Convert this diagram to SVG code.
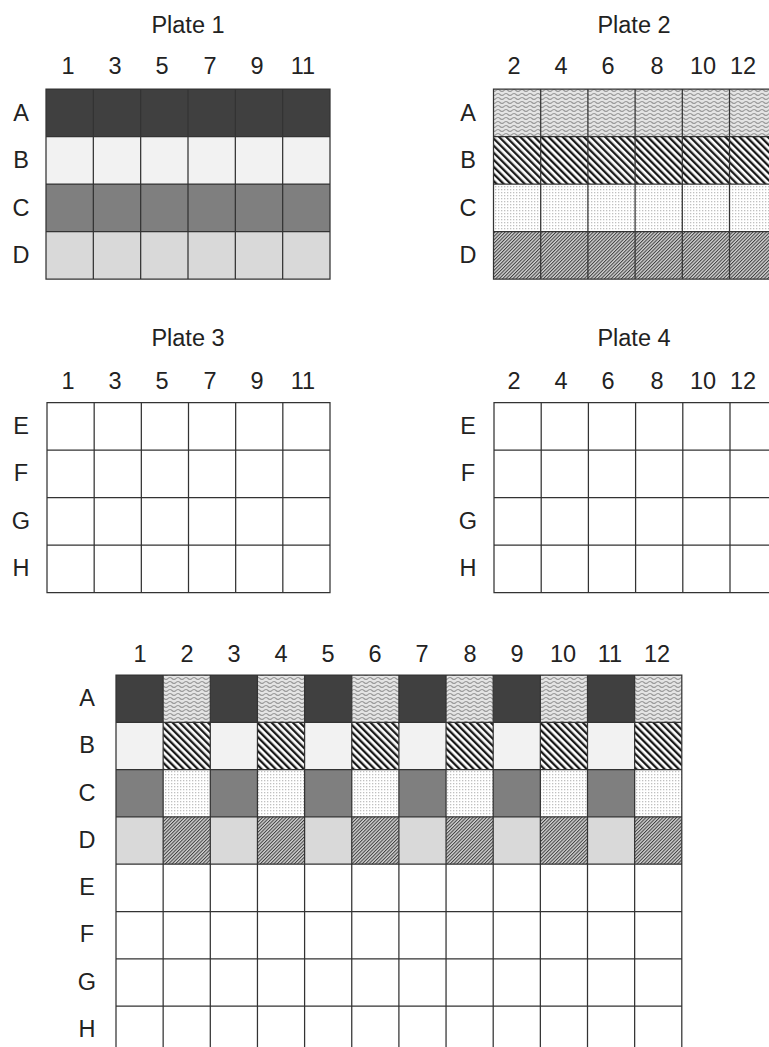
<svg xmlns="http://www.w3.org/2000/svg" width="769" height="1047" viewBox="0 0 769 1047">
<style>
text{font-family:"Liberation Sans",Arial,sans-serif;font-size:23.5px;fill:#222;text-anchor:middle}
.grid{fill:none;stroke:#333;stroke-width:1.25}
.a1{fill:#404040}.b1{fill:#f2f2f2}.c1{fill:#7f7f7f}.d1{fill:#d9d9d9}
.a2{fill:url(#wave)}.b2{fill:url(#stripeB)}.c2{fill:url(#dots)}.d2{fill:url(#stripeD)}
</style>
<defs>
<pattern id="wave" patternUnits="userSpaceOnUse" width="8" height="4">
<rect width="8" height="4" fill="#e4e4e4"/>
<path d="M0 2.5 Q2 0.5 4 2.5 T8 2.5" fill="none" stroke="#9a9a9a" stroke-width="1.1"/>
</pattern>
<pattern id="stripeB" patternUnits="userSpaceOnUse" width="5" height="10" patternTransform="rotate(-45)">
<rect width="5" height="10" fill="#ffffff"/>
<rect width="2.3" height="10" fill="#1a1a1a"/>
</pattern>
<pattern id="stripeD" patternUnits="userSpaceOnUse" width="2.4" height="10" patternTransform="rotate(45)">
<rect width="2.4" height="10" fill="#d2d2d2"/>
<rect width="1" height="10" fill="#404040"/>
</pattern>
<pattern id="dots" patternUnits="userSpaceOnUse" width="3" height="3">
<rect width="3" height="3" fill="#ffffff"/>
<rect width="1.3" height="1.3" fill="#c0c0c0"/>
</pattern>
</defs>

<g id="plate1">
<text x="188" y="33">Plate 1</text>
<text x="68" y="74">1</text><text x="115" y="74">3</text><text x="162" y="74">5</text><text x="210" y="74">7</text><text x="257" y="74">9</text><text x="303" y="74">11</text>
<text x="21" y="121">A</text><text x="21" y="168">B</text><text x="21" y="216">C</text><text x="21" y="263">D</text>
<rect class="a1" x="46" y="89" width="284" height="47.5"/>
<rect class="b1" x="46" y="136.5" width="284" height="47.5"/>
<rect class="c1" x="46" y="184" width="284" height="47.5"/>
<rect class="d1" x="46" y="231.5" width="284" height="47.5"/>
<path class="grid" d="M46 89H330V279H46Z M93.33 89V279 M140.67 89V279 M188 89V279 M235.33 89V279 M282.67 89V279 M46 136.5H330 M46 184H330 M46 231.5H330"/>
</g>

<g id="plate2">
<text x="634" y="33">Plate 2</text>
<text x="514" y="74">2</text><text x="561" y="74">4</text><text x="608" y="74">6</text><text x="657" y="74">8</text><text x="703" y="74">10</text><text x="743" y="74">12</text>
<text x="468" y="121">A</text><text x="468" y="168">B</text><text x="468" y="216">C</text><text x="468" y="263">D</text>
<rect class="a2" x="493.5" y="89" width="283.2" height="47.5"/>
<rect class="b2" x="493.5" y="136.5" width="283.2" height="47.5"/>
<rect class="c2" x="493.5" y="184" width="283.2" height="47.5"/>
<rect class="d2" x="493.5" y="231.5" width="283.2" height="47.5"/>
<path class="grid" d="M493.5 89H776.7V279H493.5Z M540.7 89V279 M587.9 89V279 M635.1 89V279 M682.3 89V279 M729.5 89V279 M493.5 136.5H776.7 M493.5 184H776.7 M493.5 231.5H776.7"/>
</g>

<g id="plate3">
<text x="188" y="346">Plate 3</text>
<text x="68" y="389">1</text><text x="115" y="389">3</text><text x="162" y="389">5</text><text x="210" y="389">7</text><text x="257" y="389">9</text><text x="303" y="389">11</text>
<text x="21" y="434">E</text><text x="21" y="481">F</text><text x="21" y="529">G</text><text x="21" y="576">H</text>
<rect x="47" y="402.7" width="283" height="190" fill="#ffffff"/>
<path class="grid" d="M47 402.7H330V592.7H47Z M94.17 402.7V592.7 M141.33 402.7V592.7 M188.5 402.7V592.7 M235.67 402.7V592.7 M282.83 402.7V592.7 M47 450.2H330 M47 497.7H330 M47 545.2H330"/>
</g>

<g id="plate4">
<text x="634" y="346">Plate 4</text>
<text x="514" y="389">2</text><text x="561" y="389">4</text><text x="608" y="389">6</text><text x="657" y="389">8</text><text x="703" y="389">10</text><text x="743" y="389">12</text>
<text x="468" y="434">E</text><text x="468" y="481">F</text><text x="468" y="529">G</text><text x="468" y="576">H</text>
<rect x="494" y="402.7" width="283.2" height="190" fill="#ffffff"/>
<path class="grid" d="M494 402.7H777.2V592.7H494Z M541.2 402.7V592.7 M588.4 402.7V592.7 M635.6 402.7V592.7 M682.8 402.7V592.7 M730 402.7V592.7 M494 450.2H777.2 M494 497.7H777.2 M494 545.2H777.2"/>
</g>

<g id="combined">
<text x="140" y="662">1</text><text x="187" y="662">2</text><text x="234" y="662">3</text><text x="281" y="662">4</text><text x="328" y="662">5</text><text x="375" y="662">6</text><text x="422" y="662">7</text><text x="470" y="662">8</text><text x="517" y="662">9</text><text x="563" y="662">10</text><text x="610" y="662">11</text><text x="657" y="662">12</text>
<text x="87" y="706">A</text><text x="87" y="753">B</text><text x="87" y="801">C</text><text x="87" y="848">D</text><text x="87" y="895">E</text><text x="87" y="942">F</text><text x="87" y="990">G</text><text x="87" y="1037">H</text>
<g id="rowA">
<rect class="a1" x="116" y="675" width="47.15" height="47.3"/><rect class="a2" x="163.15" y="675" width="47.15" height="47.3"/>
<rect class="a1" x="210.3" y="675" width="47.15" height="47.3"/><rect class="a2" x="257.45" y="675" width="47.15" height="47.3"/>
<rect class="a1" x="304.6" y="675" width="47.15" height="47.3"/><rect class="a2" x="351.75" y="675" width="47.15" height="47.3"/>
<rect class="a1" x="398.9" y="675" width="47.15" height="47.3"/><rect class="a2" x="446.05" y="675" width="47.15" height="47.3"/>
<rect class="a1" x="493.2" y="675" width="47.15" height="47.3"/><rect class="a2" x="540.35" y="675" width="47.15" height="47.3"/>
<rect class="a1" x="587.5" y="675" width="47.15" height="47.3"/><rect class="a2" x="634.65" y="675" width="47.15" height="47.3"/>
</g>
<g id="rowB">
<rect class="b1" x="116" y="722.3" width="47.15" height="47.3"/><rect class="b2" x="163.15" y="722.3" width="47.15" height="47.3"/>
<rect class="b1" x="210.3" y="722.3" width="47.15" height="47.3"/><rect class="b2" x="257.45" y="722.3" width="47.15" height="47.3"/>
<rect class="b1" x="304.6" y="722.3" width="47.15" height="47.3"/><rect class="b2" x="351.75" y="722.3" width="47.15" height="47.3"/>
<rect class="b1" x="398.9" y="722.3" width="47.15" height="47.3"/><rect class="b2" x="446.05" y="722.3" width="47.15" height="47.3"/>
<rect class="b1" x="493.2" y="722.3" width="47.15" height="47.3"/><rect class="b2" x="540.35" y="722.3" width="47.15" height="47.3"/>
<rect class="b1" x="587.5" y="722.3" width="47.15" height="47.3"/><rect class="b2" x="634.65" y="722.3" width="47.15" height="47.3"/>
</g>
<g id="rowC">
<rect class="c1" x="116" y="769.6" width="47.15" height="47.3"/><rect class="c2" x="163.15" y="769.6" width="47.15" height="47.3"/>
<rect class="c1" x="210.3" y="769.6" width="47.15" height="47.3"/><rect class="c2" x="257.45" y="769.6" width="47.15" height="47.3"/>
<rect class="c1" x="304.6" y="769.6" width="47.15" height="47.3"/><rect class="c2" x="351.75" y="769.6" width="47.15" height="47.3"/>
<rect class="c1" x="398.9" y="769.6" width="47.15" height="47.3"/><rect class="c2" x="446.05" y="769.6" width="47.15" height="47.3"/>
<rect class="c1" x="493.2" y="769.6" width="47.15" height="47.3"/><rect class="c2" x="540.35" y="769.6" width="47.15" height="47.3"/>
<rect class="c1" x="587.5" y="769.6" width="47.15" height="47.3"/><rect class="c2" x="634.65" y="769.6" width="47.15" height="47.3"/>
</g>
<g id="rowD">
<rect class="d1" x="116" y="816.9" width="47.15" height="47.3"/><rect class="d2" x="163.15" y="816.9" width="47.15" height="47.3"/>
<rect class="d1" x="210.3" y="816.9" width="47.15" height="47.3"/><rect class="d2" x="257.45" y="816.9" width="47.15" height="47.3"/>
<rect class="d1" x="304.6" y="816.9" width="47.15" height="47.3"/><rect class="d2" x="351.75" y="816.9" width="47.15" height="47.3"/>
<rect class="d1" x="398.9" y="816.9" width="47.15" height="47.3"/><rect class="d2" x="446.05" y="816.9" width="47.15" height="47.3"/>
<rect class="d1" x="493.2" y="816.9" width="47.15" height="47.3"/><rect class="d2" x="540.35" y="816.9" width="47.15" height="47.3"/>
<rect class="d1" x="587.5" y="816.9" width="47.15" height="47.3"/><rect class="d2" x="634.65" y="816.9" width="47.15" height="47.3"/>
</g>
<path class="grid" d="M116 675H681.8V1053.4H116Z M163.15 675V1053.4 M210.3 675V1053.4 M257.45 675V1053.4 M304.6 675V1053.4 M351.75 675V1053.4 M398.9 675V1053.4 M446.05 675V1053.4 M493.2 675V1053.4 M540.35 675V1053.4 M587.5 675V1053.4 M634.65 675V1053.4 M116 722.3H681.8 M116 769.6H681.8 M116 816.9H681.8 M116 864.2H681.8 M116 911.5H681.8 M116 958.8H681.8 M116 1006.1H681.8"/>
</g>
</svg>
